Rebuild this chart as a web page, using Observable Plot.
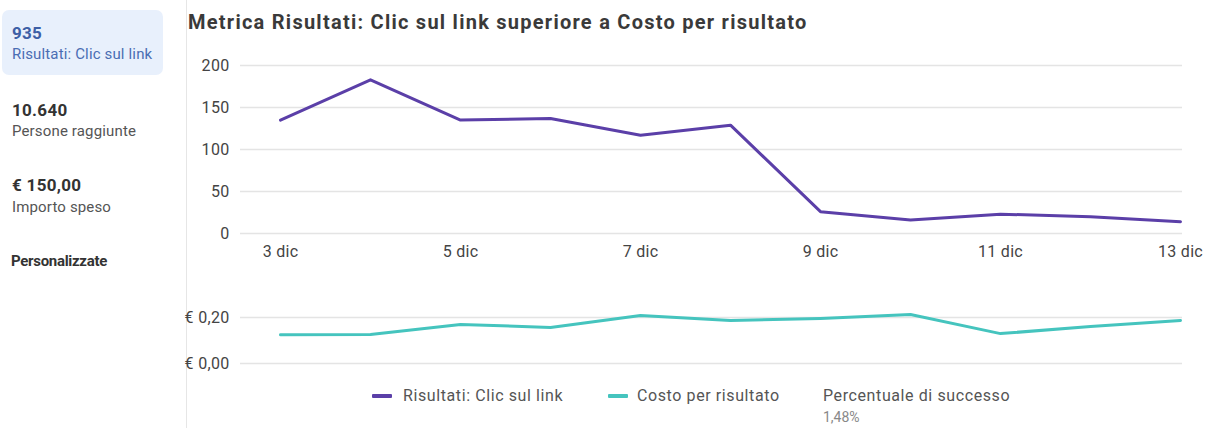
<!DOCTYPE html>
<html>
<head>
<meta charset="utf-8">
<script src="https://cdn.jsdelivr.net/npm/d3@7"></script>
<script src="https://cdn.jsdelivr.net/npm/@observablehq/plot@0.6"></script>
<style>
  html, body { margin: 0; padding: 0; background: #fff; }
  body { width: 1212px; height: 428px; position: relative; overflow: hidden; font-family: Roboto, "Noto Sans", sans-serif; }
  .abs { position: absolute; white-space: nowrap; line-height: 20px; }
  #sel { position: absolute; left: 2px; top: 10px; width: 161px; height: 65px; background: #e8f0fc; border-radius: 7px; }
  .big { font-weight: 700; font-size: 17px; color: #333; letter-spacing: 0.3px; }
  .small { font-size: 15px; color: #555; letter-spacing: 0.15px; }
  #divider { position: absolute; left: 186px; top: 0; width: 1px; height: 428px; background: #e6e6e6; }
  #title { left: 188px; top: 12px; font-size: 20px; font-weight: 700; color: #3a3a3a; letter-spacing: 1.25px; }
  .leg { font-size: 16px; color: #555; letter-spacing: 0.6px; }
  .sw { position: absolute; width: 20px; height: 4px; border-radius: 1px; }
  svg { position: absolute; overflow: visible; }
  svg text { letter-spacing: 0.3px; }
</style>
</head>
<body>
<div id="sel"></div>
<div class="abs big" style="left:12px;top:23px;color:#3d5fa6;">935</div>
<div class="abs small" style="left:12px;top:44px;color:#4a6db3;">Risultati: Clic sul link</div>
<div class="abs big" style="left:12px;top:100px;">10.640</div>
<div class="abs small" style="left:12px;top:121px;">Persone raggiunte</div>
<div class="abs big" style="left:12px;top:175px;">€ 150,00</div>
<div class="abs small" style="left:12px;top:197px;">Importo speso</div>
<div class="abs big" style="left:11px;top:251px;font-size:15px;letter-spacing:-0.3px;">Personalizzate</div>
<div id="divider"></div>
<div id="title" class="abs">Metrica Risultati: Clic sul link superiore a Costo per risultato</div>
<div id="top"></div>
<div id="bottom"></div>
<div class="sw" style="left:372px;top:394px;background:#5b3fa8;"></div>
<div class="abs leg" style="left:403px;top:386px;">Risultati: Clic sul link</div>
<div class="sw" style="left:608px;top:394px;background:#45c4be;"></div>
<div class="abs leg" style="left:637px;top:386px;">Costo per risultato</div>
<div class="abs leg" style="left:823px;top:386px;">Percentuale di successo</div>
<div class="abs" style="left:823px;top:407px;font-size:14px;color:#888;">1,48%</div>
<script>
const days = [3, 4, 5, 6, 7, 8, 9, 10, 11, 12, 13];
const results = [135, 183, 135, 137, 117, 129, 26, 16, 23, 20, 14];
const costPerResult = [0.125, 0.126, 0.17, 0.157, 0.209, 0.187, 0.196, 0.213, 0.13, 0.161, 0.187];
const xTicks = [3, 5, 7, 9, 11, 13];
const yTicksTop = [0, 50, 100, 150, 200];
const yTicksBottom = [0, 0.2];
const monthLabel = "dic";

const purple = "#5b3fa8";
const teal = "#45c4be";

const topData = days.map((d, i) => ({day: d, value: results[i]}));
const botData = days.map((d, i) => ({day: d, value: costPerResult[i]}));

const topPlot = Plot.plot({
  width: 1012, height: 213,
  marginLeft: 52, marginRight: 18, marginTop: 15, marginBottom: 30,
  style: {fontFamily: "Roboto, sans-serif", fontSize: "16px", color: "#444", background: "transparent"},
  x: {domain: [3, 13], insetLeft: 40, insetRight: 2, label: null},
  y: {domain: [0, 200], label: null},
  marks: [
    Plot.gridY(yTicksTop, {stroke: "#e4e4e4", strokeOpacity: 1, strokeWidth: 1.5}),
    Plot.axisX({ticks: xTicks, tickFormat: d => `${d} ${monthLabel}`, tickSize: 0, tickPadding: 12, label: null, fill: "#444"}),
    Plot.axisY({ticks: yTicksTop, tickSize: 0, tickPadding: 11, label: null, fill: "#444"}),
    Plot.line(topData, {x: "day", y: "value", stroke: purple, strokeWidth: 3, strokeLinejoin: "round"})
  ]
});
topPlot.style.left = "188px";
topPlot.style.top = "50px";
document.getElementById("top").appendChild(topPlot);

const botPlot = Plot.plot({
  width: 1012, height: 83,
  marginLeft: 52, marginRight: 18, marginTop: 27, marginBottom: 10,
  style: {fontFamily: "Roboto, sans-serif", fontSize: "16px", color: "#444", background: "transparent"},
  x: {domain: [3, 13], insetLeft: 40, insetRight: 2, axis: null},
  y: {domain: [0, 0.2], label: null},
  marks: [
    Plot.gridY(yTicksBottom, {stroke: "#e4e4e4", strokeOpacity: 1, strokeWidth: 1.5}),
    Plot.axisY({ticks: yTicksBottom, tickSize: 0, tickPadding: 11, label: null, fill: "#444", tickFormat: d => `€ ${d.toFixed(2).replace(".", ",")}`}),
    Plot.line(botData, {x: "day", y: "value", stroke: teal, strokeWidth: 3, strokeLinejoin: "round"})
  ]
});
botPlot.style.left = "188px";
botPlot.style.top = "290px";
document.getElementById("bottom").appendChild(botPlot);
</script>
</body>
</html>
